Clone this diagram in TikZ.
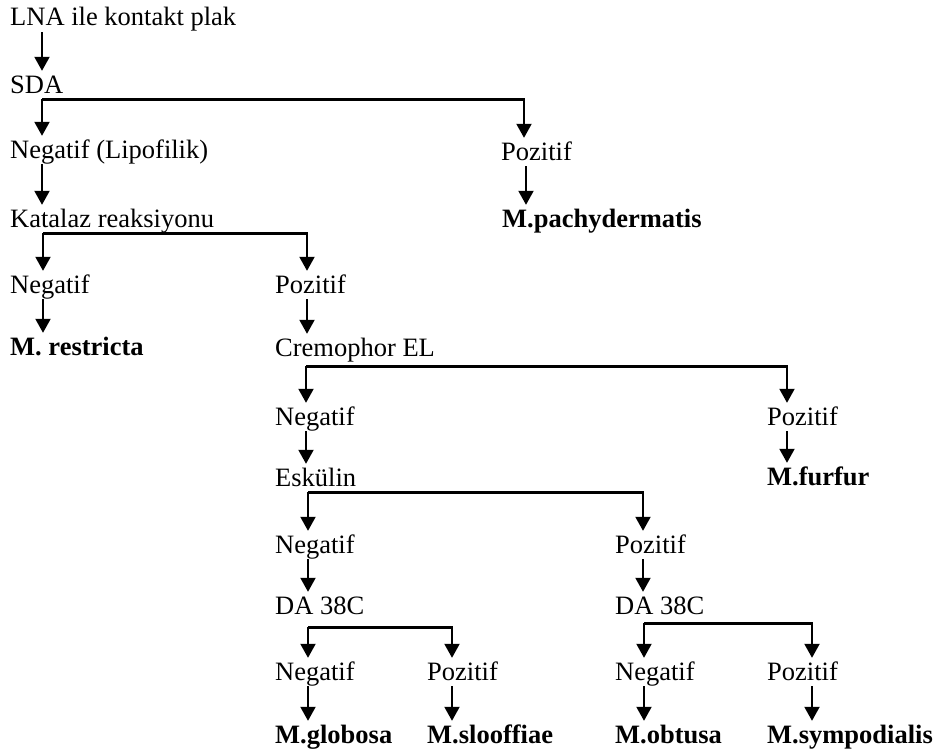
\documentclass[tikz,border=0pt]{standalone}
\usepackage{fontspec}
\setmainfont{Liberation Serif}
\usetikzlibrary{arrows.meta}

\tikzset{
  lbl/.style={anchor=base west, inner sep=0pt, text height=18pt, text depth=6pt,
    font=\fontsize{26.5}{30}\selectfont},
  species/.style={lbl, font=\fontsize{26.5}{30}\selectfont\bfseries},
  arr/.style={line width=2pt, -{Triangle[width=15pt,length=14pt]}, shorten >=4pt},
  bar/.style={line width=3pt}
}

\begin{document}
\begin{tikzpicture}[x=1pt,y=-1pt]
  \useasboundingbox (0,0) rectangle (935,752);

  % Labels
  \node[lbl] (lna) at (10,26) {LNA ile kontakt plak};
  \node[lbl] (sda) at (10,93) {SDA};
  \node[lbl] (neglip) at (10,158) {Negatif (Lipofilik)};
  \node[lbl] (possda) at (501,160) {Pozitif};
  \node[lbl] (kat) at (10,227) {Katalaz reaksiyonu};
  \node[species] (pachy) at (502,227) {M.pachydermatis};
  \node[lbl] (negkat) at (10,293) {Negatif};
  \node[lbl] (poskat) at (275,293) {Pozitif};
  \node[species] (restricta) at (10,355) {M. restricta};
  \node[lbl] (crem) at (275,356) {Cremophor EL};
  \node[lbl] (negcrem) at (275,425) {Negatif};
  \node[lbl] (poscrem) at (767,425) {Pozitif};
  \node[lbl] (esk) at (275,486) {Eskülin};
  \node[species] (furfur) at (767,485) {M.furfur};
  \node[lbl] (negesk) at (275,553) {Negatif};
  \node[lbl] (posesk) at (615,553) {Pozitif};
  \node[lbl] (daneg) at (275,614) {DA 38C};
  \node[lbl] (dapos) at (615,614) {DA 38C};
  \node[lbl] (negA) at (275,680) {Negatif};
  \node[lbl] (posA) at (427,680) {Pozitif};
  \node[lbl] (negB) at (615,680) {Negatif};
  \node[lbl] (posB) at (767,680) {Pozitif};
  \node[species] (globosa) at (275,743) {M.globosa};
  \node[species] (slooffiae) at (427,743) {M.slooffiae};
  \node[species] (obtusa) at (615,743) {M.obtusa};
  \node[species] (sympo) at (767,743) {M.sympodialis};

  % Branch bars
  \coordinate (cremb) at ([yshift=-4pt]crem.south);
  \coordinate (danegb) at ([yshift=-7pt]daneg.south);
  \coordinate (daposb) at ([yshift=-3pt]dapos.south);
  \draw[bar] (sda.south -| 42,0) -- (sda.south -| 525,0);
  \draw[bar] (kat.south -| 43,0) -- (kat.south -| 308,0);
  \draw[bar] (cremb -| 306,0) -- (cremb -| 788,0);
  \draw[bar] (esk.south -| 308,0) -- (esk.south -| 644,0);
  \draw[bar] (danegb -| 308,0) -- (danegb -| 453,0);
  \draw[bar] (daposb -| 644,0) -- (daposb -| 813,0);

  % Arrows
  \draw[arr] (lna.south -| 42,0) -- (sda.north -| 42,0);
  \draw[arr] (sda.south -| 42,0) -- (neglip.north -| 42,0);
  \draw[arr] (sda.south -| 524,0) -- (possda.north -| 524,0);
  \draw[arr] (neglip.south -| 42,0) -- (kat.north -| 42,0);
  \draw[arr] (possda.south -| 526,0) -- (pachy.north -| 526,0);
  \draw[arr] (kat.south -| 43,0) -- (negkat.north -| 43,0);
  \draw[arr] (kat.south -| 307,0) -- (poskat.north -| 307,0);
  \draw[arr] (negkat.south -| 43,0) -- (restricta.north -| 43,0);
  \draw[arr] (poskat.south -| 307,0) -- (crem.north -| 307,0);
  \draw[arr] (cremb -| 306,0) -- (negcrem.north -| 306,0);
  \draw[arr] (cremb -| 787,0) -- (poscrem.north -| 787,0);
  \draw[arr] (negcrem.south -| 306,0) -- (esk.north -| 306,0);
  \draw[arr] (poscrem.south -| 787,0) -- (furfur.north -| 787,0);
  \draw[arr] (esk.south -| 308,0) -- (negesk.north -| 308,0);
  \draw[arr] (esk.south -| 643,0) -- (posesk.north -| 643,0);
  \draw[arr] (negesk.south -| 308,0) -- (daneg.north -| 308,0);
  \draw[arr] (posesk.south -| 643,0) -- (dapos.north -| 643,0);
  \draw[arr] (danegb -| 308,0) -- (negA.north -| 308,0);
  \draw[arr] (danegb -| 452,0) -- (posA.north -| 452,0);
  \draw[arr] (daposb -| 644,0) -- (negB.north -| 644,0);
  \draw[arr] (daposb -| 812,0) -- (posB.north -| 812,0);
  \draw[arr] (negA.south -| 308,0) -- (globosa.north -| 308,0);
  \draw[arr] (posA.south -| 452,0) -- (slooffiae.north -| 452,0);
  \draw[arr] (negB.south -| 644,0) -- (obtusa.north -| 644,0);
  \draw[arr] (posB.south -| 812,0) -- (sympo.north -| 812,0);
\end{tikzpicture}
\end{document}
